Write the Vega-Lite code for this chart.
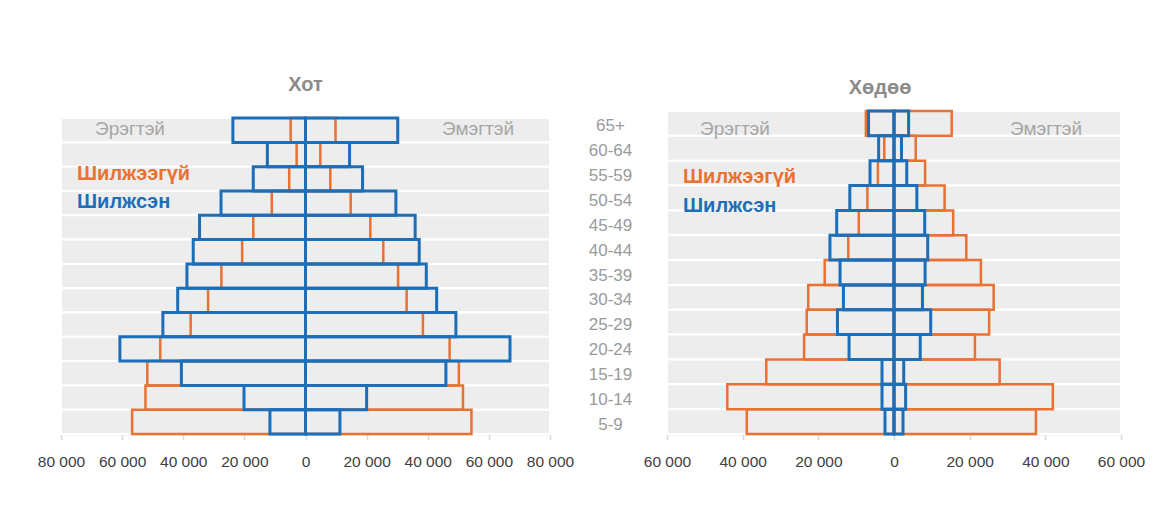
{
  "$schema": "https://vega.github.io/schema/vega-lite/v6.json",
  "background": "white",
  "padding": {"left": 37, "top": 75, "right": 5, "bottom": 5},
  "spacing": 14,
  "config": {
    "view": {"stroke": null},
    "font": "Liberation Sans",
    "axisX": {
      "title": null, "grid": false, "domainColor": "#D9D9D9", "domainWidth": 1.5,
      "tickColor": "#D9D9D9", "tickSize": 6, "tickWidth": 1.5, "labelPadding": 14,
      "labelColor": "#404040", "labelFontSize": 15.5, "labelFont": "Liberation Sans",
      "labelFlush": false, "labelOverlap": false,
      "labelExpr": "replace(format(abs(datum.value), ','), ',', ' ')"
    },
    "axisY": {
      "title": null, "ticks": false, "tickSize": 0, "domain": false, "grid": false, "labels": false
    }
  },
  "datasets": {
    "pop": [
      {"region": "Хот", "age": "65+", "status": "Шилжээгүй", "sex": "Эрэгтэй", "pop": -4850},
      {"region": "Хот", "age": "65+", "status": "Шилжээгүй", "sex": "Эмэгтэй", "pop": 9820},
      {"region": "Хот", "age": "65+", "status": "Шилжсэн", "sex": "Эрэгтэй", "pop": -23760},
      {"region": "Хот", "age": "65+", "status": "Шилжсэн", "sex": "Эмэгтэй", "pop": 30180},
      {"region": "Хот", "age": "60-64", "status": "Шилжээгүй", "sex": "Эрэгтэй", "pop": -2900},
      {"region": "Хот", "age": "60-64", "status": "Шилжээгүй", "sex": "Эмэгтэй", "pop": 4850},
      {"region": "Хот", "age": "60-64", "status": "Шилжсэн", "sex": "Эрэгтэй", "pop": -12480},
      {"region": "Хот", "age": "60-64", "status": "Шилжсэн", "sex": "Эмэгтэй", "pop": 14420},
      {"region": "Хот", "age": "55-59", "status": "Шилжээгүй", "sex": "Эрэгтэй", "pop": -5330},
      {"region": "Хот", "age": "55-59", "status": "Шилжээгүй", "sex": "Эмэгтэй", "pop": 8120},
      {"region": "Хот", "age": "55-59", "status": "Шилжсэн", "sex": "Эрэгтэй", "pop": -17090},
      {"region": "Хот", "age": "55-59", "status": "Шилжсэн", "sex": "Эмэгтэй", "pop": 18670},
      {"region": "Хот", "age": "50-54", "status": "Шилжээгүй", "sex": "Эрэгтэй", "pop": -11030},
      {"region": "Хот", "age": "50-54", "status": "Шилжээгүй", "sex": "Эмэгтэй", "pop": 14790},
      {"region": "Хот", "age": "50-54", "status": "Шилжсэн", "sex": "Эрэгтэй", "pop": -27640},
      {"region": "Хот", "age": "50-54", "status": "Шилжсэн", "sex": "Эмэгтэй", "pop": 29580},
      {"region": "Хот", "age": "45-49", "status": "Шилжээгүй", "sex": "Эрэгтэй", "pop": -17090},
      {"region": "Хот", "age": "45-49", "status": "Шилжээгүй", "sex": "Эмэгтэй", "pop": 21210},
      {"region": "Хот", "age": "45-49", "status": "Шилжсэн", "sex": "Эрэгтэй", "pop": -34670},
      {"region": "Хот", "age": "45-49", "status": "Шилжсэн", "sex": "Эмэгтэй", "pop": 35880},
      {"region": "Хот", "age": "40-44", "status": "Шилжээгүй", "sex": "Эрэгтэй", "pop": -20730},
      {"region": "Хот", "age": "40-44", "status": "Шилжээгүй", "sex": "Эмэгтэй", "pop": 25450},
      {"region": "Хот", "age": "40-44", "status": "Шилжсэн", "sex": "Эрэгтэй", "pop": -36730},
      {"region": "Хот", "age": "40-44", "status": "Шилжсэн", "sex": "Эмэгтэй", "pop": 37210},
      {"region": "Хот", "age": "35-39", "status": "Шилжээгүй", "sex": "Эрэгтэй", "pop": -27520},
      {"region": "Хот", "age": "35-39", "status": "Шилжээгүй", "sex": "Эмэгтэй", "pop": 30300},
      {"region": "Хот", "age": "35-39", "status": "Шилжсэн", "sex": "Эрэгтэй", "pop": -38790},
      {"region": "Хот", "age": "35-39", "status": "Шилжсэн", "sex": "Эмэгтэй", "pop": 39520},
      {"region": "Хот", "age": "30-34", "status": "Шилжээгүй", "sex": "Эрэгтэй", "pop": -31880},
      {"region": "Хот", "age": "30-34", "status": "Шилжээгүй", "sex": "Эмэгтэй", "pop": 33090},
      {"region": "Хот", "age": "30-34", "status": "Шилжсэн", "sex": "Эрэгтэй", "pop": -41820},
      {"region": "Хот", "age": "30-34", "status": "Шилжсэн", "sex": "Эмэгтэй", "pop": 42910},
      {"region": "Хот", "age": "25-29", "status": "Шилжээгүй", "sex": "Эрэгтэй", "pop": -37580},
      {"region": "Хот", "age": "25-29", "status": "Шилжээгүй", "sex": "Эмэгтэй", "pop": 38420},
      {"region": "Хот", "age": "25-29", "status": "Шилжсэн", "sex": "Эрэгтэй", "pop": -46670},
      {"region": "Хот", "age": "25-29", "status": "Шилжсэн", "sex": "Эмэгтэй", "pop": 49210},
      {"region": "Хот", "age": "20-24", "status": "Шилжээгүй", "sex": "Эрэгтэй", "pop": -47520},
      {"region": "Хот", "age": "20-24", "status": "Шилжээгүй", "sex": "Эмэгтэй", "pop": 47150},
      {"region": "Хот", "age": "20-24", "status": "Шилжсэн", "sex": "Эрэгтэй", "pop": -60730},
      {"region": "Хот", "age": "20-24", "status": "Шилжсэн", "sex": "Эмэгтэй", "pop": 66910},
      {"region": "Хот", "age": "15-19", "status": "Шилжээгүй", "sex": "Эрэгтэй", "pop": -51760},
      {"region": "Хот", "age": "15-19", "status": "Шилжээгүй", "sex": "Эмэгтэй", "pop": 50180},
      {"region": "Хот", "age": "15-19", "status": "Шилжсэн", "sex": "Эрэгтэй", "pop": -40610},
      {"region": "Хот", "age": "15-19", "status": "Шилжсэн", "sex": "Эмэгтэй", "pop": 45940},
      {"region": "Хот", "age": "10-14", "status": "Шилжээгүй", "sex": "Эрэгтэй", "pop": -52360},
      {"region": "Хот", "age": "10-14", "status": "Шилжээгүй", "sex": "Эмэгтэй", "pop": 51520},
      {"region": "Хот", "age": "10-14", "status": "Шилжсэн", "sex": "Эрэгтэй", "pop": -20120},
      {"region": "Хот", "age": "10-14", "status": "Шилжсэн", "sex": "Эмэгтэй", "pop": 20000},
      {"region": "Хот", "age": "5-9", "status": "Шилжээгүй", "sex": "Эрэгтэй", "pop": -56730},
      {"region": "Хот", "age": "5-9", "status": "Шилжээгүй", "sex": "Эмэгтэй", "pop": 54300},
      {"region": "Хот", "age": "5-9", "status": "Шилжсэн", "sex": "Эрэгтэй", "pop": -11640},
      {"region": "Хот", "age": "5-9", "status": "Шилжсэн", "sex": "Эмэгтэй", "pop": 11270},
      {"region": "Хөдөө", "age": "65+", "status": "Шилжээгүй", "sex": "Эрэгтэй", "pop": -7430},
      {"region": "Хөдөө", "age": "65+", "status": "Шилжээгүй", "sex": "Эмэгтэй", "pop": 15250},
      {"region": "Хөдөө", "age": "65+", "status": "Шилжсэн", "sex": "Эрэгтэй", "pop": -6730},
      {"region": "Хөдөө", "age": "65+", "status": "Шилжсэн", "sex": "Эмэгтэй", "pop": 3860},
      {"region": "Хөдөө", "age": "60-64", "status": "Шилжээгүй", "sex": "Эрэгтэй", "pop": -2570},
      {"region": "Хөдөө", "age": "60-64", "status": "Шилжээгүй", "sex": "Эмэгтэй", "pop": 5740},
      {"region": "Хөдөө", "age": "60-64", "status": "Шилжсэн", "sex": "Эрэгтэй", "pop": -4060},
      {"region": "Хөдөө", "age": "60-64", "status": "Шилжсэн", "sex": "Эмэгтэй", "pop": 1980},
      {"region": "Хөдөө", "age": "55-59", "status": "Шилжээгүй", "sex": "Эрэгтэй", "pop": -4260},
      {"region": "Хөдөө", "age": "55-59", "status": "Шилжээгүй", "sex": "Эмэгтэй", "pop": 8220},
      {"region": "Хөдөө", "age": "55-59", "status": "Шилжсэн", "sex": "Эрэгтэй", "pop": -6340},
      {"region": "Хөдөө", "age": "55-59", "status": "Шилжсэн", "sex": "Эмэгтэй", "pop": 3370},
      {"region": "Хөдөө", "age": "50-54", "status": "Шилжээгүй", "sex": "Эрэгтэй", "pop": -7030},
      {"region": "Хөдөө", "age": "50-54", "status": "Шилжээгүй", "sex": "Эмэгтэй", "pop": 13370},
      {"region": "Хөдөө", "age": "50-54", "status": "Шилжсэн", "sex": "Эрэгтэй", "pop": -11680},
      {"region": "Хөдөө", "age": "50-54", "status": "Шилжсэн", "sex": "Эмэгтэй", "pop": 6040},
      {"region": "Хөдөө", "age": "45-49", "status": "Шилжээгүй", "sex": "Эрэгтэй", "pop": -9310},
      {"region": "Хөдөө", "age": "45-49", "status": "Шилжээгүй", "sex": "Эмэгтэй", "pop": 15640},
      {"region": "Хөдөө", "age": "45-49", "status": "Шилжсэн", "sex": "Эрэгтэй", "pop": -15150},
      {"region": "Хөдөө", "age": "45-49", "status": "Шилжсэн", "sex": "Эмэгтэй", "pop": 8120},
      {"region": "Хөдөө", "age": "40-44", "status": "Шилжээгүй", "sex": "Эрэгтэй", "pop": -12080},
      {"region": "Хөдөө", "age": "40-44", "status": "Шилжээгүй", "sex": "Эмэгтэй", "pop": 19110},
      {"region": "Хөдөө", "age": "40-44", "status": "Шилжсэн", "sex": "Эрэгтэй", "pop": -16930},
      {"region": "Хөдөө", "age": "40-44", "status": "Шилжсэн", "sex": "Эмэгтэй", "pop": 8910},
      {"region": "Хөдөө", "age": "35-39", "status": "Шилжээгүй", "sex": "Эрэгтэй", "pop": -18320},
      {"region": "Хөдөө", "age": "35-39", "status": "Шилжээгүй", "sex": "Эмэгтэй", "pop": 22970},
      {"region": "Хөдөө", "age": "35-39", "status": "Шилжсэн", "sex": "Эрэгтэй", "pop": -14260},
      {"region": "Хөдөө", "age": "35-39", "status": "Шилжсэн", "sex": "Эмэгтэй", "pop": 8220},
      {"region": "Хөдөө", "age": "30-34", "status": "Шилжээгүй", "sex": "Эрэгтэй", "pop": -22670},
      {"region": "Хөдөө", "age": "30-34", "status": "Шилжээгүй", "sex": "Эмэгтэй", "pop": 26340},
      {"region": "Хөдөө", "age": "30-34", "status": "Шилжсэн", "sex": "Эрэгтэй", "pop": -13370},
      {"region": "Хөдөө", "age": "30-34", "status": "Шилжсэн", "sex": "Эмэгтэй", "pop": 7520},
      {"region": "Хөдөө", "age": "25-29", "status": "Шилжээгүй", "sex": "Эрэгтэй", "pop": -23070},
      {"region": "Хөдөө", "age": "25-29", "status": "Шилжээгүй", "sex": "Эмэгтэй", "pop": 25150},
      {"region": "Хөдөө", "age": "25-29", "status": "Шилжсэн", "sex": "Эрэгтэй", "pop": -14950},
      {"region": "Хөдөө", "age": "25-29", "status": "Шилжсэн", "sex": "Эмэгтэй", "pop": 9700},
      {"region": "Хөдөө", "age": "20-24", "status": "Шилжээгүй", "sex": "Эрэгтэй", "pop": -23760},
      {"region": "Хөдөө", "age": "20-24", "status": "Шилжээгүй", "sex": "Эмэгтэй", "pop": 21390},
      {"region": "Хөдөө", "age": "20-24", "status": "Шилжсэн", "sex": "Эрэгтэй", "pop": -11880},
      {"region": "Хөдөө", "age": "20-24", "status": "Шилжсэн", "sex": "Эмэгтэй", "pop": 6930},
      {"region": "Хөдөө", "age": "15-19", "status": "Шилжээгүй", "sex": "Эрэгтэй", "pop": -33760},
      {"region": "Хөдөө", "age": "15-19", "status": "Шилжээгүй", "sex": "Эмэгтэй", "pop": 27920},
      {"region": "Хөдөө", "age": "15-19", "status": "Шилжсэн", "sex": "Эрэгтэй", "pop": -3170},
      {"region": "Хөдөө", "age": "15-19", "status": "Шилжсэн", "sex": "Эмэгтэй", "pop": 2570},
      {"region": "Хөдөө", "age": "10-14", "status": "Шилжээгүй", "sex": "Эрэгтэй", "pop": -44060},
      {"region": "Хөдөө", "age": "10-14", "status": "Шилжээгүй", "sex": "Эмэгтэй", "pop": 41980},
      {"region": "Хөдөө", "age": "10-14", "status": "Шилжсэн", "sex": "Эрэгтэй", "pop": -3170},
      {"region": "Хөдөө", "age": "10-14", "status": "Шилжсэн", "sex": "Эмэгтэй", "pop": 3070},
      {"region": "Хөдөө", "age": "5-9", "status": "Шилжээгүй", "sex": "Эрэгтэй", "pop": -38910},
      {"region": "Хөдөө", "age": "5-9", "status": "Шилжээгүй", "sex": "Эмэгтэй", "pop": 37520},
      {"region": "Хөдөө", "age": "5-9", "status": "Шилжсэн", "sex": "Эрэгтэй", "pop": -2380},
      {"region": "Хөдөө", "age": "5-9", "status": "Шилжсэн", "sex": "Эмэгтэй", "pop": 2380}
    ]
  },
  "hconcat": [
    {
      "width": 489,
      "height": 323,
      "title": {"text": "Хот", "fontSize": 20, "fontWeight": "bold", "color": "#8C8C8C", "offset": 16, "font": "Liberation Sans"},
      "layer": [
        {
          "data": {"name": "pop"},
          "transform": [{"filter": "datum.region === 'Хот' && datum.status === 'Шилжсэн' && datum.sex === 'Эрэгтэй'"}],
          "mark": {"type": "rect", "fill": "#EDEDED", "stroke": "white", "strokeWidth": 2},
          "encoding": {
            "y": {"field": "age", "type": "nominal", "scale": {"domain": ["65+", "60-64", "55-59", "50-54", "45-49", "40-44", "35-39", "30-34", "25-29", "20-24", "15-19", "10-14", "5-9"], "paddingInner": 0, "paddingOuter": 0.146, "align": 1}},
            "x": {"datum": -80000, "type": "quantitative", "scale": {"domain": [-80000, 80000], "nice": false}, "axis": {"values": [-80000, -60000, -40000, -20000, 0, 20000, 40000, 60000, 80000]}},
            "x2": {"datum": 80000}
          }
        },
        {
          "data": {"name": "pop"},
          "transform": [{"filter": "datum.region === 'Хот' && datum.status === 'Шилжээгүй'"}],
          "mark": {"type": "bar", "fillOpacity": 0, "stroke": "#E97132", "strokeWidth": 2.5},
          "encoding": {
            "y": {"field": "age", "type": "nominal"},
            "x": {"field": "pop", "type": "quantitative"}
          }
        },
        {
          "data": {"name": "pop"},
          "transform": [{"filter": "datum.region === 'Хот' && datum.status === 'Шилжсэн'"}],
          "mark": {"type": "bar", "fillOpacity": 0, "stroke": "#1C6EB9", "strokeWidth": 3},
          "encoding": {
            "y": {"field": "age", "type": "nominal"},
            "x": {"field": "pop", "type": "quantitative"}
          }
        },
        {
          "data": {"values": [{}]},
          "mark": {"type": "text", "text": "Эрэгтэй", "fontSize": 19, "color": "#A6A6A6", "align": "center", "baseline": "middle", "dy": -1},
          "encoding": {"x": {"datum": -57420, "type": "quantitative"}, "y": {"datum": "65+", "type": "nominal"}}
        },
        {
          "data": {"values": [{}]},
          "mark": {"type": "text", "text": "Эмэгтэй", "fontSize": 19, "color": "#A6A6A6", "align": "center", "baseline": "middle", "dy": -1},
          "encoding": {"x": {"datum": 56440, "type": "quantitative"}, "y": {"datum": "65+", "type": "nominal"}}
        },
        {
          "data": {"values": [{}]},
          "mark": {"type": "text", "text": "Шилжээгүй", "fontSize": 20, "fontWeight": "bold", "color": "#E97132", "align": "left", "baseline": "middle", "dy": -5},
          "encoding": {"x": {"datum": -74770, "type": "quantitative"}, "y": {"datum": "55-59", "type": "nominal"}}
        },
        {
          "data": {"values": [{}]},
          "mark": {"type": "text", "text": "Шилжсэн", "fontSize": 20, "fontWeight": "bold", "color": "#1C6EB9", "align": "left", "baseline": "middle", "dy": -1},
          "encoding": {"x": {"datum": -74770, "type": "quantitative"}, "y": {"datum": "50-54", "type": "nominal"}}
        }
      ]
    },
    {
      "width": 454,
      "height": 323,
      "title": {"text": "Хөдөө", "fontSize": 20, "fontWeight": "bold", "color": "#8C8C8C", "offset": 12, "dx": -14, "font": "Liberation Sans"},
      "layer": [
        {
          "data": {"name": "pop"},
          "transform": [{"filter": "datum.region === 'Хөдөө' && datum.status === 'Шилжсэн' && datum.sex === 'Эрэгтэй'"}],
          "mark": {"type": "rect", "fill": "#EDEDED", "stroke": "white", "strokeWidth": 2},
          "encoding": {
            "y": {"field": "age", "type": "nominal", "scale": {"domain": ["65+", "60-64", "55-59", "50-54", "45-49", "40-44", "35-39", "30-34", "25-29", "20-24", "15-19", "10-14", "5-9"], "paddingInner": 0, "paddingOuter": 0}, "axis": {"labels": true, "labelAlign": "center", "labelBaseline": "middle", "labelPadding": 57, "labelOffset": 3, "labelFontSize": 17, "labelColor": "#9A9A9A", "labelFont": "Liberation Sans"}},
            "x": {"datum": -60000, "type": "quantitative", "scale": {"domain": [-60000, 60000], "nice": false}, "axis": {"values": [-60000, -40000, -20000, 0, 20000, 40000, 60000]}},
            "x2": {"datum": 60000}
          }
        },
        {
          "data": {"name": "pop"},
          "transform": [{"filter": "datum.region === 'Хөдөө' && datum.status === 'Шилжээгүй'"}],
          "mark": {"type": "bar", "fillOpacity": 0, "stroke": "#E97132", "strokeWidth": 2.5},
          "encoding": {
            "y": {"field": "age", "type": "nominal"},
            "x": {"field": "pop", "type": "quantitative"}
          }
        },
        {
          "data": {"name": "pop"},
          "transform": [{"filter": "datum.region === 'Хөдөө' && datum.status === 'Шилжсэн'"}],
          "mark": {"type": "bar", "fillOpacity": 0, "stroke": "#1C6EB9", "strokeWidth": 3},
          "encoding": {
            "y": {"field": "age", "type": "nominal"},
            "x": {"field": "pop", "type": "quantitative"}
          }
        },
        {
          "data": {"values": [{}]},
          "mark": {"type": "text", "text": "Эрэгтэй", "fontSize": 19, "color": "#A6A6A6", "align": "center", "baseline": "middle", "dy": 6},
          "encoding": {"x": {"datum": -42030, "type": "quantitative"}, "y": {"datum": "65+", "type": "nominal"}}
        },
        {
          "data": {"values": [{}]},
          "mark": {"type": "text", "text": "Эмэгтэй", "fontSize": 19, "color": "#A6A6A6", "align": "center", "baseline": "middle", "dy": 6},
          "encoding": {"x": {"datum": 40180, "type": "quantitative"}, "y": {"datum": "65+", "type": "nominal"}}
        },
        {
          "data": {"values": [{}]},
          "mark": {"type": "text", "text": "Шилжээгүй", "fontSize": 20, "fontWeight": "bold", "color": "#E97132", "align": "left", "baseline": "middle", "dy": 4},
          "encoding": {"x": {"datum": -55770, "type": "quantitative"}, "y": {"datum": "55-59", "type": "nominal"}}
        },
        {
          "data": {"values": [{}]},
          "mark": {"type": "text", "text": "Шилжсэн", "fontSize": 20, "fontWeight": "bold", "color": "#1C6EB9", "align": "left", "baseline": "middle", "dy": 8},
          "encoding": {"x": {"datum": -55770, "type": "quantitative"}, "y": {"datum": "50-54", "type": "nominal"}}
        }
      ]
    }
  ]
}
